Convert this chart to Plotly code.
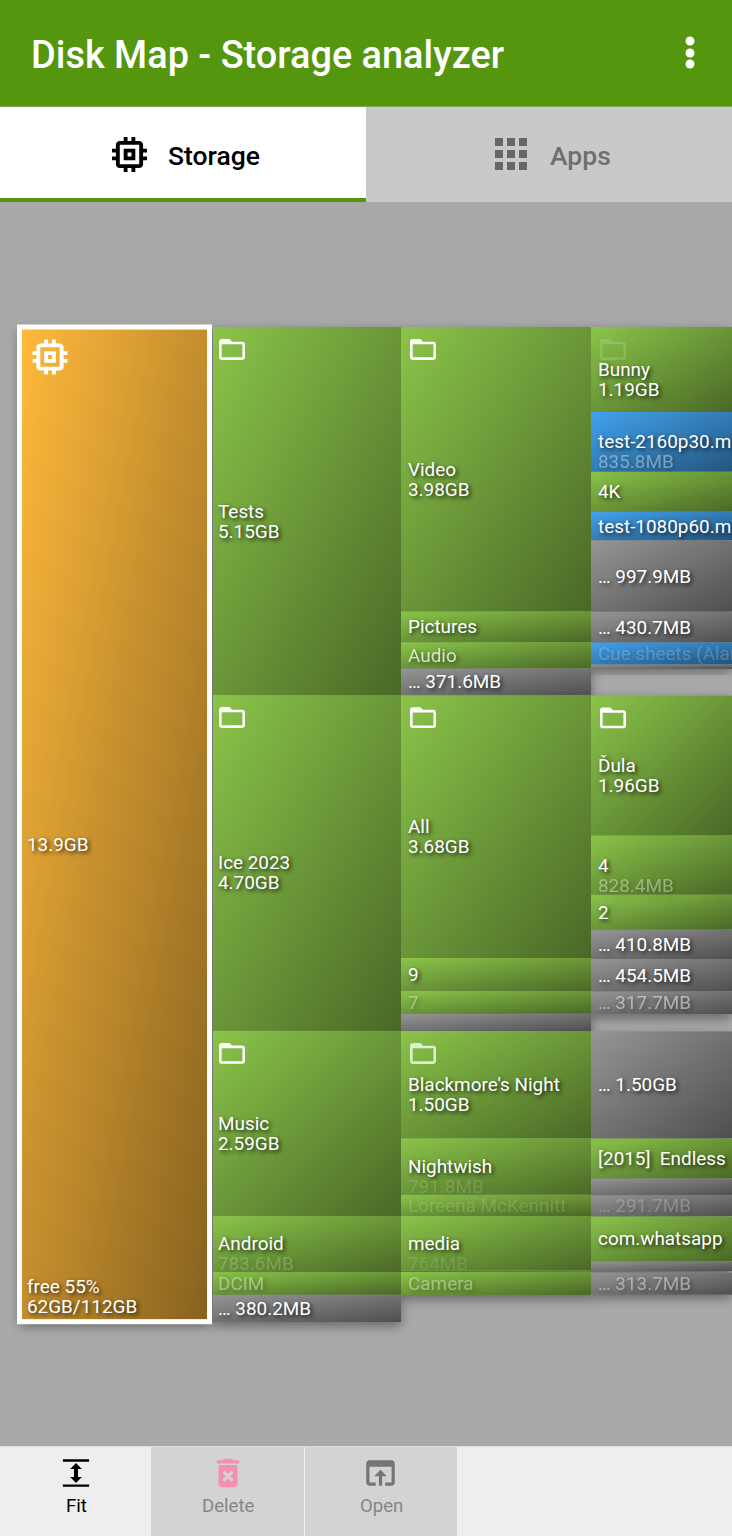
import base64
import numpy as np
import plotly.graph_objects as go

# sizes are in GB, "" name with kind "gap" = empty space in that column
free_names = [""]
free_sizes = [13.92]
free_kinds = ["free"]
free_notes = ["13.9GB"]

dirs_names = ["Tests", "Ice 2023", "Music", "Android", "DCIM", "… 380.2MB"]
dirs_sizes = [5.15, 4.70, 2.59, 0.7836, 0.32, 0.3802]
dirs_kinds = ["dir", "dir", "dir", "dir", "dir", "other"]
dirs_notes = ["5.15GB", "4.70GB", "2.59GB", "783.6MB", "", ""]

sub_names = ["Video", "Pictures", "Audio", "… 371.6MB", "All", "9", "7", "",
             "Blackmore's Night", "Nightwish", "Loreena McKennitt", "media", "", "Camera", ""]
sub_sizes = [3.98, 0.43, 0.37, 0.3716, 3.68, 0.46, 0.32, 0.24,
             1.50, 0.7918, 0.2982, 0.764, 0.0196, 0.32, 0.3802]
sub_kinds = ["dir", "dir", "dir", "other", "dir", "dir", "dir", "other",
             "dir", "dir", "dir", "dir", "gap", "dir", "gap"]
sub_notes = ["3.98GB", "", "", "", "3.68GB", "", "", "",
             "1.50GB", "791.8MB", "", "764MB", "", "", ""]

leaf_names = ["Bunny", "test-2160p30.mp4", "4K", "test-1080p60.mp4", "… 997.9MB", "… 430.7MB",
              "Cue sheets (Alan Parsons)", "", "",
              "Ďula", "4", "2", "… 410.8MB", "… 454.5MB", "… 317.7MB", "",
              "… 1.50GB", "[2015]\u00a0\u00a0Endless", "", "… 291.7MB", "",
              "com.whatsapp", "", "", "… 313.7MB", ""]
leaf_sizes = [1.19, 0.8358, 0.56, 0.40, 0.9979, 0.4307,
              0.31, 0.06, 0.3716,
              1.96, 0.8284, 0.49, 0.41, 0.4545, 0.3177, 0.24,
              1.50, 0.56, 0.2318, 0.2917, 0.0065,
              0.63, 0.134, 0.0196, 0.3137, 0.3865]
leaf_kinds = ["dir", "file", "dir", "file", "other", "other",
              "file", "other", "gap",
              "dir", "dir", "dir", "other", "other", "other", "gap",
              "other", "dir", "other", "other", "gap",
              "dir", "other", "gap", "other", "gap"]
leaf_notes = ["1.19GB", "835.8MB", "", "", "", "",
              "", "", "",
              "1.96GB", "828.4MB", "", "", "", "", "",
              "", "", "", "", "",
              "", "", "", "", ""]

columns = [
    (free_names, free_sizes, free_kinds, free_notes),
    (dirs_names, dirs_sizes, dirs_kinds, dirs_notes),
    (sub_names, sub_sizes, sub_kinds, sub_notes),
    (leaf_names, leaf_sizes, leaf_kinds, leaf_notes),
]

W, H = 732, 1536
MAP_TOP = 327
PX_PER_GB = 995 / sum(dirs_sizes)

col_left = [19.5, 213, 401, 591]
col_width = [190, 188, 190, 141]
label_pad = [7.5, 5, 7, 7]
icon_dx = [30, 19, 22, 22]

KIND_COLORS = {"free": "#ffb93b", "dir": "#8ac449", "file": "#42a2ee",
               "other": "#959595", "gap": "rgba(0,0,0,0)"}

# labels that sit half faded in the screenshot
FADED = {"835.8MB": 0.35, "Audio": 0.7, "7": 0.35, "828.4MB": 0.35, "… 317.7MB": 0.45,
         "Cue sheets (Alan Parsons)": 0.18, "791.8MB": 0.13, "Loreena McKennitt": 0.13,
         "… 291.7MB": 0.2, "764MB": 0.1, "783.6MB": 0.17, "DCIM": 0.35, "Camera": 0.35,
         "… 313.7MB": 0.4}
FOLDERS = {"Tests": 1, "Video": 1, "Bunny": 0.15, "Ice 2023": 1, "All": 1, "Ďula": 1,
           "Music": 1, "Blackmore's Night": 0.75}

CHIP = "M15 9H9v6h6V9zm-2 4h-2v-2h2v2zm8-2V9h-2V7c0-1.1-.9-2-2-2h-2V3h-2v2h-2V3H9v2H7c-1.1 0-2 .9-2 2v2H3v2h2v2H3v2h2v2c0 1.1.9 2 2 2h2v2h2v-2h2v2h2v-2h2c1.1 0 2-.9 2-2v-2h2v-2h-2v-2h2zm-4 6H7V7h10v10z"
GRID = "M4 8h4V4H4v4zm6 12h4v-4h-4v4zm-6 0h4v-4H4v4zm0-6h4v-4H4v4zm6 0h4v-4h-4v4zm6-10v4h4V4h-4zm-6 4h4V4h-4v4zm6 6h4v-4h-4v4zm0 6h4v-4h-4v4z"
FOLDER = "M20 6h-8l-2-2H4c-1.1 0-1.99.9-1.99 2L2 18c0 1.1.9 2 2 2h16c1.1 0 2-.9 2-2V8c0-1.1-.9-2-2-2zm0 12H4V8h16v10z"
TRASH = "M6 19c0 1.1.9 2 2 2h8c1.1 0 2-.9 2-2V7H6v12zm2.46-7.12l1.41-1.41L12 12.59l2.12-2.12 1.41 1.41L13.41 14l2.12 2.12-1.41 1.41L12 15.41l-2.12 2.12-1.41-1.41L10.59 14l-2.13-2.12zM15.5 4l-1-1h-5l-1 1H5v2h14V4z"
OPEN = "M19 4H5c-1.11 0-2 .9-2 2v12c0 1.1.89 2 2 2h4v-2H5V8h14v10h-4v2h4c1.1 0 2-.9 2-2V6c0-1.1-.89-2-2-2zm-7 6l-4 4h3v6h2v-6h3l-4-4z"
FIT = "M3 2.6h18v1.6H3zM3 19.8h18v1.6H3zM12 5.2l-4 4h2.6v5.6H8l4 4 4-4h-2.6V9.2H16z"


def uri(svg):
    return "data:image/svg+xml;base64," + base64.b64encode(svg.encode("utf-8")).decode()


def icon_uri(path, color, alpha=1):
    return uri(f"<svg xmlns='http://www.w3.org/2000/svg' width='96' height='96' viewBox='0 0 24 24'>"
               f"<path d='{path}' fill='{color}' fill-opacity='{alpha}'/></svg>")


GRADIENT = uri("<svg xmlns='http://www.w3.org/2000/svg' width='100' height='100' viewBox='0 0 100 100' "
               "preserveAspectRatio='none'><defs><linearGradient id='g' x1='0' y1='0' x2='1' y2='1'>"
               "<stop offset='0' stop-color='#000' stop-opacity='0'/>"
               "<stop offset='1' stop-color='#000' stop-opacity='0.47'/></linearGradient></defs>"
               "<rect width='100' height='100' fill='url(#g)'/></svg>")


def shadow_uri(w, h, m):
    return uri(f"<svg xmlns='http://www.w3.org/2000/svg' width='{w + 2 * m}' height='{h + 2 * m}'>"
               f"<defs><filter id='b' x='-50%' y='-50%' width='200%' height='200%'>"
               f"<feGaussianBlur stdDeviation='6'/></filter></defs>"
               f"<rect x='{m}' y='{m + 4}' width='{w}' height='{h}' fill='#000' fill-opacity='0.4' "
               f"filter='url(#b)'/></svg>")


def ui_rect(x0, y0, x1, y1, color):
    return dict(type="rect", xref="paper", yref="paper", x0=x0 / W, x1=x1 / W, y0=1 - y0 / H, y1=1 - y1 / H,
                fillcolor=color, line_width=0, layer="below")


def ui_icon(source, cx, cy, size):
    return dict(source=source, xref="paper", yref="paper", x=(cx - size / 2) / W, y=1 - (cy - size / 2) / H,
                sizex=size / W, sizey=size / H, xanchor="left", yanchor="top", sizing="stretch", layer="above")


def ui_text(text, x, y, size, color, weight=400, anchor="center"):
    return dict(text=text, xref="paper", yref="paper", x=x / W, y=1 - y / H, xanchor=anchor, yanchor="middle",
                showarrow=False, borderpad=0, borderwidth=0,
                font=dict(family="Roboto", size=size, color=color, weight=weight))


def cell_label(text, x, y, yshift=0, anchor="left"):
    return dict(text=text, x=x, y=y, xref="x", yref="y", xanchor=anchor, yanchor="middle", yshift=yshift,
                showarrow=False, opacity=FADED.get(text, 1), borderpad=0, borderwidth=0,
                font=dict(family="Roboto", size=18.9, color="white", shadow="2px 2px 4px rgba(0,0,0,0.8)"))


fig = go.Figure()
images, annotations = [], []

for c, (names, sizes, kinds, notes) in enumerate(columns):
    sizes = np.array(sizes)
    bases = np.concatenate([[0], np.cumsum(sizes)[:-1]])
    fig.add_trace(go.Bar(
        x=[col_left[c] + col_width[c] / 2] * len(sizes),
        y=sizes,
        base=bases,
        width=col_width[c],
        marker=dict(color=[KIND_COLORS[k] for k in kinds],
                    line=dict(width=5 if c == 0 else 0, color="white")),
        customdata=names,
        hovertemplate="%{customdata} %{y:.2f}GB<extra></extra>",
    ))
    inset = 2.5 if c == 0 else 0
    for name, size, base, kind, note in zip(names, sizes, bases, kinds, notes):
        if kind == "gap":
            continue
        images.append(dict(source=GRADIENT, xref="x", yref="y", x=col_left[c] + inset, y=base + inset / PX_PER_GB,
                           sizex=col_width[c] - 2 * inset, sizey=size - 2 * inset / PX_PER_GB,
                           xanchor="left", yanchor="top", sizing="stretch", layer="above"))
        w_px, h_px, m = int(col_width[c]), int(round(size * PX_PER_GB)), 24
        images.append(dict(source=shadow_uri(w_px, h_px, m), xref="x", yref="y", x=col_left[c] - m,
                           y=base - m / PX_PER_GB, sizex=w_px + 2 * m, sizey=(h_px + 2 * m) / PX_PER_GB,
                           xanchor="left", yanchor="top", sizing="stretch", layer="below"))
        mid = base + size / 2
        label_x = col_left[c] + label_pad[c]
        if name:
            annotations.append(cell_label(name, label_x, mid, yshift=0))
        if note:
            annotations.append(cell_label(note, label_x, mid, yshift=-20))
        if name in FOLDERS:
            s = 31.2
            images.append(dict(source=icon_uri(FOLDER, "white", FOLDERS[name]), xref="x", yref="y",
                               x=col_left[c] + icon_dx[c] - s / 2, y=base + (22.5 - s / 2) / PX_PER_GB,
                               sizex=s, sizey=s / PX_PER_GB, xanchor="left", yanchor="top",
                               sizing="stretch", layer="above"))

# the selected free space cell
annotations.append(cell_label("free 55%", 27, (1286.5 - MAP_TOP) / PX_PER_GB))
annotations.append(cell_label("62GB/112GB", 27, (1306.5 - MAP_TOP) / PX_PER_GB))
images.append(ui_icon(icon_uri(CHIP, "white"), 50, 357, 46.6))

shapes = [
    ui_rect(0, 0, W, 106, "#54960e"),
    ui_rect(0, 106, W, 107, "#7ea857"),
    ui_rect(0, 107, 366, 198, "#ffffff"),
    ui_rect(0, 198, 366, 202, "#54960e"),
    ui_rect(366, 107, W, 202, "#c9c9c9"),
    ui_rect(0, 1446, W, H, "#eeeeee"),
    ui_rect(151, 1446, 304, H, "#d3d3d3"),
    ui_rect(305, 1446, 457, H, "#d3d3d3"),
    ui_rect(0, 1446, W, 1447, "#dcdcdc"),
]
images += [
    ui_icon(icon_uri(CHIP, "black"), 129.5, 154.5, 46.6),
    ui_icon(icon_uri(GRID, "#666666"), 511, 154, 48),
    ui_icon(icon_uri(FIT, "black"), 76, 1473, 35),
    ui_icon(icon_uri(TRASH, "#f48fb1"), 228, 1473, 38),
    ui_icon(icon_uri(OPEN, "#757575"), 380.5, 1473, 38),
]
for dot_y in [41, 53, 64]:
    shapes.append(dict(type="circle", xref="paper", yref="paper", x0=685.5 / W, x1=694.5 / W,
                       y0=1 - (dot_y - 4.5) / H, y1=1 - (dot_y + 4.5) / H, fillcolor="white", line_width=0))

annotations += [
    ui_text("Disk Map - Storage analyzer", 31, 55, 37.9, "white", 500, "left"),
    ui_text("Storage", 168, 155, 26.5, "black", 500, "left"),
    ui_text("Apps", 550, 155, 26.5, "#6f6f6f", 500, "left"),
    ui_text("Fit", 76.5, 1506, 18.6, "black"),
    ui_text("Delete", 228.5, 1506, 18.6, "#868686"),
    ui_text("Open", 381, 1506, 18.6, "#868686"),
]

fig.update_layout(
    width=W,
    height=H,
    margin=dict(l=0, r=0, t=0, b=0),
    showlegend=False,
    barmode="overlay",
    plot_bgcolor="#a9a9a9",
    paper_bgcolor="#a9a9a9",
    xaxis=dict(visible=False, range=[0, W], fixedrange=True),
    yaxis=dict(visible=False, range=[(H - MAP_TOP) / PX_PER_GB, -MAP_TOP / PX_PER_GB], fixedrange=True),
    shapes=shapes,
    images=images,
    annotations=annotations,
)

fig.write_html("out.html", config=dict(displayModeBar=False),
               post_script="document.body.style.margin='0';document.documentElement.style.overflow='hidden';")
